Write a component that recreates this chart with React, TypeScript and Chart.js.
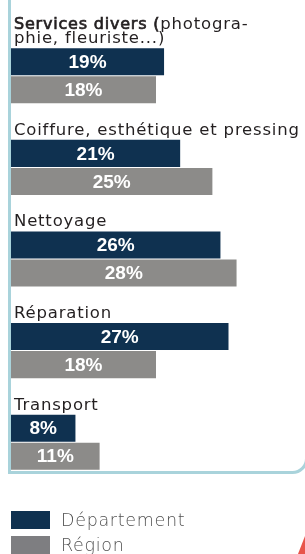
import React, { useEffect, useRef } from "react";
import { Chart, registerables } from "chart.js";

Chart.register(...registerables);

const categoryLines: string[][] = [
  ["Services divers (photogra-", "phie, fleuriste...)"],
  ["Coiffure, esthétique et pressing"],
  ["Nettoyage"],
  ["Réparation"],
  ["Transport"],
];
const boldPrefixes: string[] = ["Services divers (", "", "", "", ""];
const departement: number[] = [19, 21, 26, 27, 8];
const region: number[] = [18, 25, 28, 18, 11];
const seriesNames: string[] = ["Département", "Région"];

const DEPT_COLOR = "#0f3150";
const REG_COLOR = "#8c8b89";
const LABEL_FONT = '"DejaVu Sans", sans-serif';

const decorPlugin = {
  id: "decor",
  beforeDraw(chart: any) {
    const ctx = chart.ctx;
    ctx.save();
    ctx.strokeStyle = "#a9d3db";
    ctx.lineWidth = 3;
    ctx.beginPath();
    ctx.moveTo(9.5, -5);
    ctx.lineTo(9.5, 472.5);
    ctx.lineTo(292, 472.5);
    ctx.arcTo(306.5, 472.5, 306.5, 458, 14);
    ctx.lineTo(306.5, -5);
    ctx.stroke();
    ctx.fillStyle = "#e8544a";
    ctx.beginPath();
    ctx.moveTo(305, 536);
    ctx.lineTo(298, 554);
    ctx.lineTo(305, 554);
    ctx.closePath();
    ctx.fill();
    ctx.restore();
  },
  afterDatasetsDraw(chart: any) {
    const ctx = chart.ctx;
    ctx.save();
    const m0 = chart.getDatasetMeta(0);
    categoryLines.forEach((lines, i) => {
      const bar = m0.data[i];
      const top = bar.y - bar.height / 2;
      const x = 14;
      const n = lines.length;
      lines.forEach((line, j) => {
        const baseline = top - 5 - (n - 1 - j) * 14;
        ctx.textBaseline = "alphabetic";
        ctx.textAlign = "left";
        ctx.fillStyle = "#231f20";
        (ctx as any).letterSpacing = "0.8px";
        let cx = x;
        let rest = line;
        const bp = j === 0 ? boldPrefixes[i] : "";
        if (bp && line.startsWith(bp)) {
          ctx.font = `16px ${LABEL_FONT}`;
          ctx.strokeStyle = "#231f20";
          ctx.lineWidth = 0.7;
          ctx.fillText(bp, cx, baseline);
          ctx.strokeText(bp, cx, baseline);
          cx += ctx.measureText(bp).width;
          rest = line.slice(bp.length);
        }
        ctx.font = `16.5px ${LABEL_FONT}`;
        ctx.fillText(rest, cx, baseline);
      });
    });
    (ctx as any).letterSpacing = "0px";
    ctx.font = 'bold 19px "Liberation Sans", Arial, sans-serif';
    ctx.fillStyle = "#ffffff";
    ctx.textAlign = "center";
    ctx.textBaseline = "middle";
    chart.data.datasets.forEach((ds: any, di: number) => {
      const meta = chart.getDatasetMeta(di);
      meta.data.forEach((el: any, i: number) => {
        const cx = (el.base + el.x) / 2;
        ctx.fillText(`${ds.data[i]}%`, cx, el.y + 1);
      });
    });
    ctx.restore();
  },
};

export default function App() {
  const ref = useRef<HTMLCanvasElement | null>(null);
  useEffect(() => {
    if (!ref.current) return;
    const chart = new Chart(ref.current, {
      type: "bar",
      data: {
        labels: categoryLines.map((l) => l.join(" ")),
        datasets: [
          {
            label: seriesNames[0],
            data: departement,
            backgroundColor: DEPT_COLOR,
            categoryPercentage: 0.612,
            barPercentage: 0.964,
          },
          {
            label: seriesNames[1],
            data: region,
            backgroundColor: REG_COLOR,
            categoryPercentage: 0.612,
            barPercentage: 0.964,
          },
        ],
      },
      options: {
        indexAxis: "y",
        animation: false,
        responsive: false,
        devicePixelRatio: 1,
        layout: { padding: { left: 11, right: 4, top: 30, bottom: 66 } },
        scales: {
          x: { display: false, min: 0, max: 36 },
          y: { display: false },
        },
        plugins: {
          legend: { display: false },
          tooltip: { enabled: false },
        },
      },
      plugins: [decorPlugin],
    });
    return () => chart.destroy();
  }, []);

  const legendItems = [
    { name: seriesNames[0], color: DEPT_COLOR, top: 511 },
    { name: seriesNames[1], color: "#7e7e81", top: 536 },
  ];

  return (
    <div
      style={{
        position: "absolute",
        left: 0,
        top: 0,
        width: 305,
        height: 554,
        overflow: "hidden",
        background: "#ffffff",
      }}
    >
      <canvas ref={ref} width={305} height={554} style={{ display: "block" }} />
      {legendItems.map((it) => (
        <div
          key={it.name}
          style={{
            position: "absolute",
            left: 11,
            top: it.top,
            height: 18,
            display: "flex",
            alignItems: "center",
          }}
        >
          <div style={{ width: 39, height: 18, background: it.color }} />
          <span
            style={{
              marginLeft: 11,
              fontFamily: LABEL_FONT,
              fontSize: 17.5,
              fontWeight: 300,
              color: "#505050",
              letterSpacing: "0.7px",
              lineHeight: "18px",
              whiteSpace: "nowrap",
            }}
          >
            {it.name}
          </span>
        </div>
      ))}
    </div>
  );
}
